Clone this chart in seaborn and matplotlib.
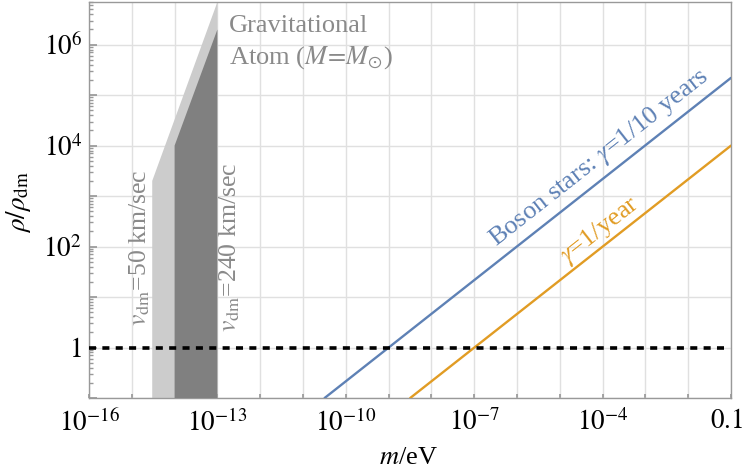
import numpy as np
import pandas as pd
import matplotlib
matplotlib.use("Agg")
import matplotlib.pyplot as plt
import matplotlib.ticker as mticker
import seaborn as sns

# ---- data ----
m_blue = [3.2e-11, 0.1]
rho_blue = [0.1, 2.2e5]
m_orange = [3.2e-9, 0.1]
rho_orange = [0.1, 1.0e4]
m_dm = [1e-16, 7e-2]
rho_dm = [1.0, 1.0]
m_light = [3e-15, 3e-15, 1e-13, 1e-13]
rho_light = [0.1, 2e3, 7e6, 0.1]
m_dark = [1e-14, 1e-14, 1e-13, 1e-13]
rho_dark = [0.1, 1e4, 2e6, 0.1]
x_tick_exps = [-16, -13, -10, -7, -4]
x_last_label = "0.1"
y_tick_labels = {0: "1", 2: "$10^{2}$", 4: "$10^{4}$", 6: "$10^{6}$"}

sns.set_theme(style="white")
plt.rcParams["font.family"] = ["Liberation Serif", "DejaVu Serif"]
plt.rcParams["mathtext.fontset"] = "stix"

BLUE = "#5E81B5"
ORANGE = "#E19C24"
GRAYTXT = "#8a8a8a"
TICKFS = 19.5

fig = plt.figure(figsize=(7.44, 4.72), dpi=100)
ax = fig.add_axes([89 / 744, 1 - 398 / 472, 642 / 744, 396 / 472])
ax.set_xscale("log")
ax.set_yscale("log")
ax.set_xlim(1e-16, 0.1)
ax.set_ylim(0.1, 7e6)

# grid
ax.set_axisbelow(True)
ax.xaxis.set_major_locator(mticker.LogLocator(base=10, numticks=40))
ax.yaxis.set_major_locator(mticker.LogLocator(base=10, numticks=40))
ax.xaxis.set_minor_locator(mticker.NullLocator())
ax.yaxis.set_minor_locator(mticker.LogLocator(base=10, subs=np.arange(2, 10), numticks=40))
ax.grid(True, which="major", color="#e0e0e0", lw=1.0)


def xfmt(v, pos):
    e = int(round(np.log10(v)))
    if e in x_tick_exps:
        return "$10^{%d}$" % e
    return ""


def yfmt(v, pos):
    e = int(round(np.log10(v)))
    if e in y_tick_labels:
        s = y_tick_labels[e]
        return s if s.startswith("$") else "$" + s + "$"
    return ""


ax.xaxis.set_major_formatter(mticker.FuncFormatter(xfmt))
ax.yaxis.set_major_formatter(mticker.FuncFormatter(yfmt))
ax.yaxis.set_minor_formatter(mticker.NullFormatter())

ax.tick_params(axis="both", which="both", direction="in", color="#999999",
               labelsize=TICKFS, labelcolor="black")
ax.tick_params(axis="x", which="major", length=3, pad=8, top=False, bottom=True)
ax.tick_params(axis="y", which="major", length=6, pad=5, left=True, right=False)
ax.tick_params(axis="y", which="minor", length=3, left=True, right=False)

# last x label placed so it stays inside the canvas, as in the reference
ax.annotate("$" + x_last_label + "$", xy=(1.0, 0.0), xycoords="axes fraction",
            xytext=(8.5, -8), textcoords="offset points", ha="right", va="top",
            fontsize=TICKFS, color="black")

for s in ax.spines.values():
    s.set_color("#999999")
    s.set_linewidth(1.0)

# shaded gravitational atom regions
ax.fill(m_light, rho_light, color="#cccccc", lw=0, zorder=2)
ax.fill(m_dark, rho_dark, color="#808080", lw=0, zorder=3)

# lines
df_b = pd.DataFrame({"m": m_blue, "rho": rho_blue})
df_o = pd.DataFrame({"m": m_orange, "rho": rho_orange})
df_d = pd.DataFrame({"m": m_dm, "rho": rho_dm})
sns.lineplot(data=df_b, x="m", y="rho", ax=ax, color=BLUE, lw=1.7, zorder=5)
sns.lineplot(data=df_o, x="m", y="rho", ax=ax, color=ORANGE, lw=1.7, zorder=5)
sns.lineplot(data=df_d, x="m", y="rho", ax=ax, color="black", lw=2.6, zorder=6,
             dashes=False, linestyle=(0, (1.95, 1.75)))
ax.lines[-1].set_dash_capstyle("butt")
ax.set_xlim(1e-16, 0.1)
ax.set_ylim(0.1, 7e6)

# rotation of lines in display space
p0 = ax.transData.transform((m_blue[0], rho_blue[0]))
p1 = ax.transData.transform((m_blue[1], rho_blue[1]))
ang = np.degrees(np.arctan2(p1[1] - p0[1], p1[0] - p0[0]))

ax.text(8.3e-5, 5.6e3, r"Boson stars: $\gamma$=1/10 years", color=BLUE, fontsize=19,
        rotation=ang, rotation_mode="anchor", ha="center", va="center", zorder=7)
ax.text(8.9e-5, 2.1e2, r"$\gamma$=1/year", color=ORANGE, fontsize=19,
        rotation=ang, rotation_mode="anchor", ha="center", va="center", zorder=7)

ax.text(1.86e-13, 1.78e6, "Gravitational", color=GRAYTXT, fontsize=19,
        ha="left", va="baseline", zorder=7)
ax.text(1.86e-13, 4.2e5, r"Atom ($M\!=\!M_{\odot}$)", color=GRAYTXT, fontsize=19,
        ha="left", va="baseline", zorder=7)

ax.text(1.55e-15, 94, r"$v_{\mathrm{dm}}$=50 km/sec", color=GRAYTXT, fontsize=18.5,
        rotation=90, ha="center", va="center", zorder=7)
ax.text(1.96e-13, 98, r"$v_{\mathrm{dm}}$=240 km/sec", color=GRAYTXT, fontsize=18.5,
        rotation=90, ha="center", va="center", zorder=7)

ax.set_xlabel("$m$/eV", fontsize=19, color="black")
ax.set_ylabel(r"$\rho/\rho_{\mathrm{dm}}$", fontsize=19.5, color="black")
ax.xaxis.set_label_coords(0.497, -0.125)
ax.yaxis.set_label_coords(-0.088, 0.5 + (198 - 200) / 396)

fig.savefig("out.png", dpi=100)
